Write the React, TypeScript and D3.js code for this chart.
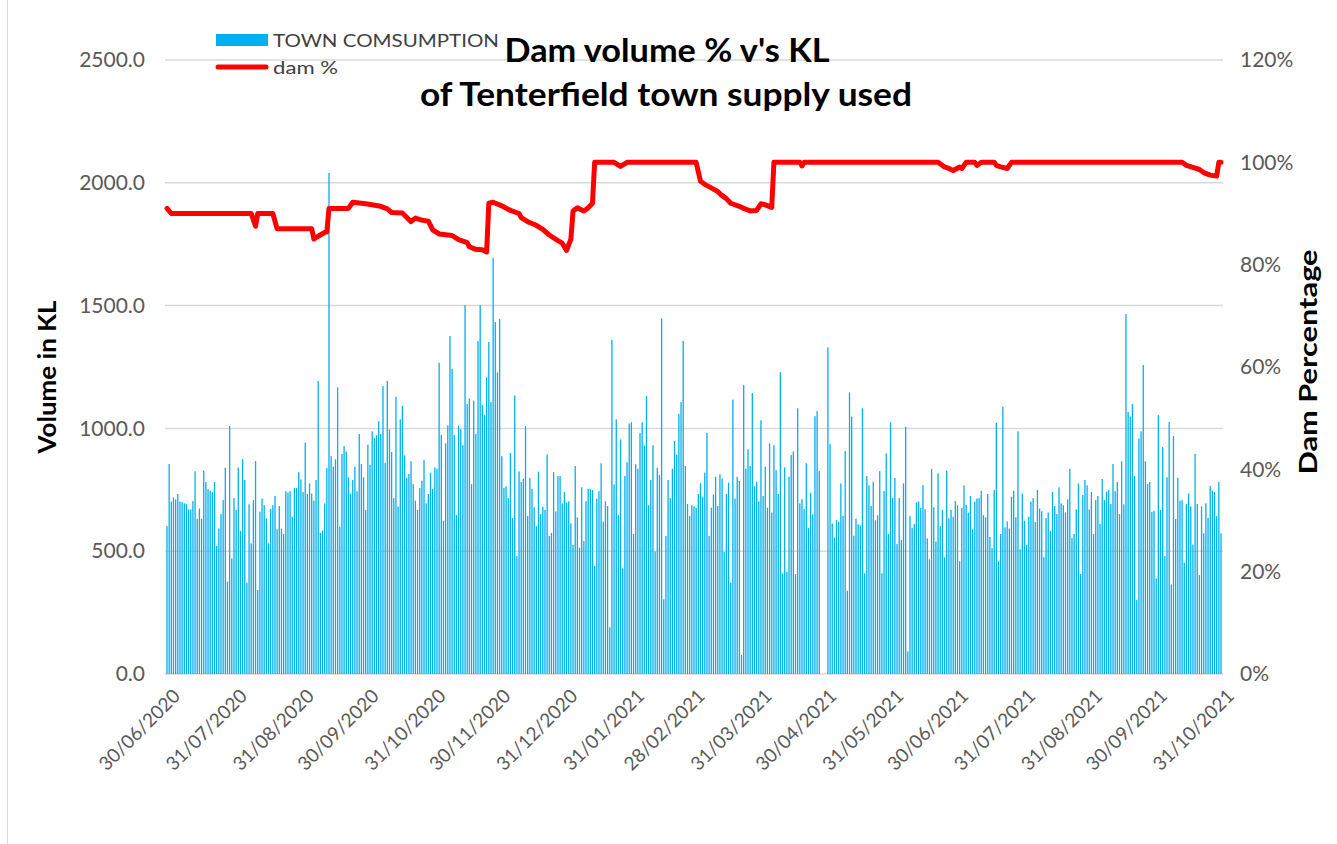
import React, { useEffect, useRef } from "react";
import * as d3 from "d3";

// daily town consumption (KL), first value is 30/06/2020, last is 31/10/2021
const firstDay = "30/06/2020";
const consumption: (number | null)[] = [
  // Jun-Aug 2020
  602, 855, 702, 719, 711, 733, 702, 700, 695, 692,
  670, 670, 704, 826, 632, 674, 632, 828, 782, 752,
  746, 741, 782, 521, 592, 651, 708, 840, 376, 1010,
  471, 716, 668, 841, 583, 875, 790, 372, 691, 532,
  708, 867, 342, 661, 714, 687, 634, 532, 672, 687,
  725, 589, 684, 592, 570, 744, 739, 744, 640, 757,
  // Aug-Oct 2020
  757, 822, 792, 741, 942, 733, 776, 735, 706, 790,
  1193, 575, 584, 695, 839, 2040, 887, 844, 874, 1167,
  600, 896, 928, 906, 801, 735, 790, 844, 744, 977,
  855, 801, 668, 934, 852, 988, 961, 972, 1029, 977,
  1172, 860, 1193, 996, 904, 716, 1129, 681, 1037, 1092,
  890, 798, 814, 866, 773, 706, 668, 757, 787, 871,
  695, 733,
  // Oct-Dec 2020
  820, 754, 841, 836, 1267, 973, 624, 939, 1012, 1376,
  1242, 973, 647, 1011, 997, 932, 1502, 1099, 1122, 773,
  1113, 978, 1356, 1502, 1096, 1054, 1208, 1352, 1107, 1694,
  1433, 1228, 1445, 887, 757, 764, 716, 900, 635, 1134,
  480, 825, 782, 795, 1010, 643, 798, 754, 679, 602,
  824, 651, 681, 668, 894, 562, 574, 822, 662, 806,
  806, 695, 741,
  // Jan-Mar 2021
  698, 703, 613, 525, 847, 638, 514, 760, 541, 704,
  754, 753, 749, 440, 714, 744, 858, 620, 703, 684,
  190, 1360, 772, 1037, 647, 955, 430, 806, 862, 1020,
  1025, 570, 854, 835, 981, 1025, 930, 1132, 687, 790,
  931, 499, 840, 810, 1448, 304, 562, 790, 716, 836,
  949, 893, 1058, 1107, 1356, 847, 692, 643, 687, 683,
  676, 733,
  // Mar-May 2021
  776, 722, 820, 982, 562, 677, 731, 803, 684, 813,
  796, 497, 733, 779, 372, 1117, 714, 803, 786, 77,
  1177, 836, 915, 847, 1144, 765, 783, 703, 1033, 725,
  844, 677, 939, 657, 932, 830, 733, 1229, 410, 841,
  415, 803, 892, 906, 407, 1082, 695, 712, 672, 858,
  594, 738, 650, 1050, 1071, 826, null, null, null, 1330,
  936, 613, 556,
  // May-Jul 2021
  627, 620, 776, 644, 908, 339, 1147, 1048, 563, 632,
  609, 606, 1082, 410, 806, 768, 684, 783, 626, 646,
  826, 410, 745, 898, 570, 1025, 717, 798, 529, 716,
  546, 776, 1006, 92, 643, 594, 611, 699, 702, 676,
  769, 670, 552, 467, 835, 679, 539, 817, 602, 668,
  475, 828, 634, 668, 640, 704, 687, 459, 676, 768,
  688, 657,
  // Jul-Sep 2021
  725, 589, 702, 714, 716, 746, 647, 638, 733, 558,
  513, 749, 1023, 459, 570, 1088, 597, 621, 592, 722,
  746, 638, 988, 508, 735, 624, 525, 640, 702, 716,
  619, 749, 674, 663, 475, 635, 657, 582, 741, 684,
  651, 760, 695, 687, 658, 711, 835, 554, 570, 670,
  776, 407, 729, 790, 768, 670, 741, 570, 708, 725,
  611, 794, 708,
  // Sep-Oct 2021
  743, 749, 692, 855, 744, 782, 651, 866, 691, 1466,
  1067, 1048, 1099, 806, 301, 959, 988, 1258, 866, 773,
  782, 660, 665, 389, 1054, 668, 924, 480, 801, 1026,
  365, 969, 631, 799, 706, 708, 453, 692, 735, 683,
  527, 896, 692, 403, 683, 573, 695, 636, 765, 746,
  741, 643, 782, 573,
];

// dam level readings (only the days where the level changes)
const damDates = [
  "30/06/2020", "02/07/2020", "08/08/2020", "10/08/2020", "11/08/2020", "18/08/2020", "20/08/2020",
  "05/09/2020", "06/09/2020", "07/09/2020", "09/09/2020", "11/09/2020", "12/09/2020", "13/09/2020",
  "22/09/2020", "24/09/2020", "30/09/2020", "07/10/2020", "10/10/2020", "12/10/2020", "17/10/2020",
  "21/10/2020", "23/10/2020", "26/10/2020", "29/10/2020", "31/10/2020", "03/11/2020", "09/11/2020",
  "12/11/2020", "16/11/2020", "17/11/2020", "20/11/2020", "23/11/2020", "25/11/2020", "26/11/2020",
  "28/11/2020", "02/12/2020", "06/12/2020", "10/12/2020", "11/12/2020", "14/12/2020", "18/12/2020",
  "21/12/2020", "24/12/2020", "28/12/2020", "30/12/2020", "01/01/2021", "03/01/2021", "04/01/2021",
  "06/01/2021", "09/01/2021", "11/01/2021", "13/01/2021", "14/01/2021", "23/01/2021", "26/01/2021",
  "29/01/2021", "02/03/2021", "04/03/2021", "06/03/2021", "09/03/2021", "12/03/2021", "14/03/2021",
  "16/03/2021", "18/03/2021", "22/03/2021", "24/03/2021", "27/03/2021", "30/03/2021", "01/04/2021",
  "03/04/2021", "06/04/2021", "07/04/2021", "19/04/2021", "20/04/2021", "21/04/2021", "22/06/2021",
  "25/06/2021", "27/06/2021", "29/06/2021", "02/07/2021", "03/07/2021", "05/07/2021", "09/07/2021",
  "10/07/2021", "12/07/2021", "18/07/2021", "19/07/2021", "21/07/2021", "24/07/2021", "26/07/2021",
  "13/10/2021", "15/10/2021", "18/10/2021", "21/10/2021", "23/10/2021", "26/10/2021", "29/10/2021",
  "30/10/2021", "31/10/2021",
];
const damPct = [
  91.0, 90.0, 90.0, 87.5, 90.0, 90.0, 87.0,
  87.0, 85.0, 85.3, 85.8, 86.3, 86.4, 91.0,
  91.0, 92.2, 91.9, 91.4, 90.9, 90.2, 90.1,
  88.4, 89.1, 88.7, 88.5, 86.8, 86.0, 85.7,
  84.9, 84.3, 83.5, 83.0, 82.9, 82.5, 92.0,
  92.2, 91.5, 90.6, 90.0, 89.2, 88.4, 87.7,
  86.9, 85.8, 84.7, 84.2, 82.8, 85.0, 90.5,
  91.1, 90.5, 91.1, 92.0, 100, 100, 99.2,
  100, 100, 96.3, 95.7, 95.0, 94.3, 93.5,
  92.9, 92.0, 91.4, 91.0, 90.5, 90.6, 91.9,
  91.7, 91.2, 100, 100, 99.3, 100, 100,
  99.1, 98.8, 98.4, 99.1, 98.8, 100, 100,
  99.4, 100, 100, 99.4, 99.1, 98.8, 100,
  100, 99.4, 99.0, 98.6, 98.0, 97.5, 97.3,
  100, 100,
];

const xTickLabels = [
  "30/06/2020", "31/07/2020", "31/08/2020", "30/09/2020", "31/10/2020", "30/11/2020",
  "31/12/2020", "31/01/2021", "28/02/2021", "31/03/2021", "30/04/2021", "31/05/2021",
  "30/06/2021", "31/07/2021", "31/08/2021", "30/09/2021", "31/10/2021",
];
const leftTicks = [0, 500, 1000, 1500, 2000, 2500];
const rightTicks = [0, 0.2, 0.4, 0.6, 0.8, 1.0, 1.2];

const font = "Lato, 'Open Sans', sans-serif";

export default function App() {
  const chartRef = useRef<SVGSVGElement>(null);

  useEffect(() => {
    const parse = d3.timeParse("%d/%m/%Y");
    const start = parse(firstDay) as Date;
    const end = parse(xTickLabels[xTickLabels.length - 1]) as Date;

    const left = 167, right = 1221, top = 60, bottom = 674;

    const x = d3.scaleTime().domain([start, end]).range([left, right]);
    const yKL = d3.scaleLinear().domain([0, 2500]).range([bottom, top]);
    const yPct = d3.scaleLinear().domain([0, 1.2]).range([bottom, top]);

    const svg = d3.select(chartRef.current);
    svg.selectAll("*").remove();

    svg.append("rect").attr("width", 1337).attr("height", 844).attr("fill", "#fff");
    svg.append("line")
      .attr("x1", 7.5).attr("x2", 7.5).attr("y1", 0).attr("y2", 844)
      .attr("stroke", "#D9D9D9").attr("stroke-width", 1);

    // gridlines
    svg.append("g")
      .selectAll("line")
      .data(leftTicks)
      .join("line")
        .attr("x1", left - 2).attr("x2", right + 2)
        .attr("y1", (d) => yKL(d)).attr("y2", (d) => yKL(d))
        .attr("stroke", "#D9D9D9").attr("stroke-width", 1.5);

    // bars
    const days = consumption.map((v, i) => ({ date: d3.timeDay.offset(start, i), v }));
    svg.append("g")
      .selectAll("rect")
      .data(days.filter((d) => d.v != null))
      .join("rect")
        .attr("x", (d) => x(d.date) - 0.65)
        .attr("width", 1.3)
        .attr("y", (d) => yKL(d.v as number))
        .attr("height", (d) => bottom - yKL(d.v as number))
        .attr("fill", "#00B0F0");

    // dam % line
    const dam = damDates.map((d, i) => ({ date: parse(d) as Date, v: damPct[i] / 100 }));
    const line = d3.line<{ date: Date; v: number }>()
      .x((d) => x(d.date))
      .y((d) => yPct(d.v));
    svg.append("path")
      .datum(dam)
      .attr("d", line)
      .attr("fill", "none")
      .attr("stroke", "#FF0000")
      .attr("stroke-width", 5)
      .attr("stroke-linejoin", "round")
      .attr("stroke-linecap", "round");

    // left axis
    const leftAxis = svg.append("g")
      .attr("transform", `translate(${left},0)`)
      .call(d3.axisLeft(yKL).tickValues(leftTicks).tickFormat(d3.format(".1f")).tickSize(0).tickPadding(22));
    leftAxis.select(".domain").remove();
    leftAxis.selectAll("text").attr("font-family", font).attr("font-size", 21).attr("fill", "#595959");

    // right axis
    const rightAxis = svg.append("g")
      .attr("transform", `translate(${right},0)`)
      .call(d3.axisRight(yPct).tickValues(rightTicks).tickFormat(d3.format(".0%")).tickSize(0).tickPadding(19));
    rightAxis.select(".domain").remove();
    rightAxis.selectAll("text").attr("font-family", font).attr("font-size", 21).attr("fill", "#595959");

    // date labels
    svg.append("g")
      .selectAll("text")
      .data(xTickLabels)
      .join("text")
        .attr("transform", (d) => `translate(${x(parse(d) as Date) + 9},${692}) rotate(-45)`)
        .attr("text-anchor", "end")
        .attr("dominant-baseline", "central")
        .attr("font-family", font)
        .attr("font-size", 19)
        .attr("fill", "#595959")
        .text((d) => d);

    // axis titles
    svg.append("text")
      .attr("transform", "translate(56,377) rotate(-90)")
      .attr("text-anchor", "middle")
      .attr("font-family", font).attr("font-weight", "bold").attr("font-size", 24)
      .attr("textLength", 153).attr("lengthAdjust", "spacingAndGlyphs")
      .text("Volume in KL");
    svg.append("text")
      .attr("transform", "translate(1317,362) rotate(-90)")
      .attr("text-anchor", "middle")
      .attr("font-family", font).attr("font-weight", "bold").attr("font-size", 25)
      .attr("textLength", 225).attr("lengthAdjust", "spacingAndGlyphs")
      .text("Dam Percentage");

    // title
    svg.append("text")
      .attr("x", 667).attr("y", 62)
      .attr("text-anchor", "middle")
      .attr("font-family", font).attr("font-weight", "bold").attr("font-size", 33)
      .attr("textLength", 325).attr("lengthAdjust", "spacingAndGlyphs")
      .text("Dam volume % v's KL");
    svg.append("text")
      .attr("x", 666).attr("y", 106)
      .attr("text-anchor", "middle")
      .attr("font-family", font).attr("font-weight", "bold").attr("font-size", 33)
      .attr("textLength", 492).attr("lengthAdjust", "spacingAndGlyphs")
      .text("of Tenterfield town supply used");

    // legend
    const legend = svg.append("g");
    legend.append("rect")
      .attr("x", 216).attr("y", 34).attr("width", 52).attr("height", 12)
      .attr("fill", "#00B0F0");
    legend.append("text")
      .attr("x", 273).attr("y", 47)
      .attr("font-family", font).attr("font-size", 18).attr("fill", "#404040")
      .attr("textLength", 226).attr("lengthAdjust", "spacingAndGlyphs")
      .text("TOWN COMSUMPTION");
    legend.append("line")
      .attr("x1", 218).attr("x2", 266).attr("y1", 67).attr("y2", 67)
      .attr("stroke", "#FF0000").attr("stroke-width", 5).attr("stroke-linecap", "round");
    legend.append("text")
      .attr("x", 273).attr("y", 74)
      .attr("font-family", font).attr("font-size", 18).attr("fill", "#404040")
      .attr("textLength", 65).attr("lengthAdjust", "spacingAndGlyphs")
      .text("dam %");
  }, []);

  return (
    <svg
      ref={chartRef}
      width={1337}
      height={844}
      style={{ position: "absolute", left: 0, top: 0, display: "block" }}
    ></svg>
  );
}
